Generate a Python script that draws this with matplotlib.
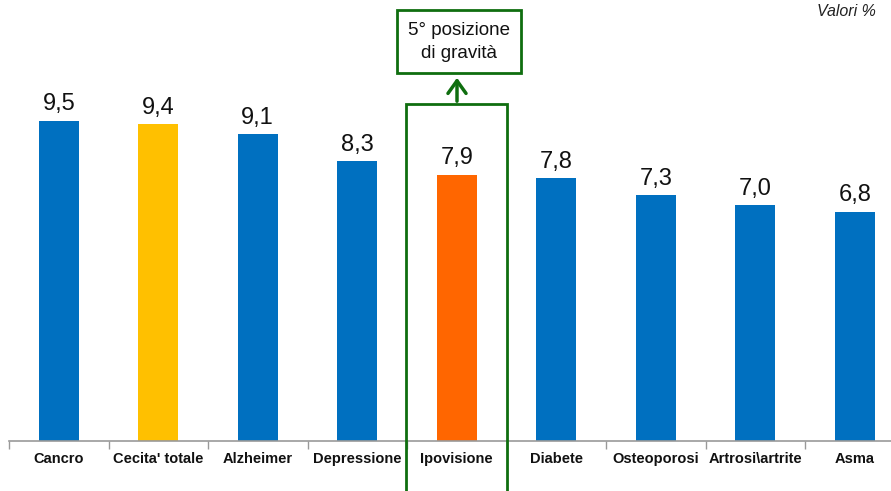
import matplotlib
matplotlib.use("Agg")
import matplotlib.pyplot as plt
from matplotlib.patches import Rectangle, FancyArrowPatch

plt.rcParams['font.family'] = ['Liberation Sans', 'DejaVu Sans']

categories = ["Cancro", "Cecita' totale", "Alzheimer", "Depressione", "Ipovisione",
              "Diabete", "Osteoporosi", "Artrosi\\artrite", "Asma"]
values = [9.5, 9.4, 9.1, 8.3, 7.9, 7.8, 7.3, 7.0, 6.8]
value_labels = ["9,5", "9,4", "9,1", "8,3", "7,9", "7,8", "7,3", "7,0", "6,8"]

BLUE = "#0070C0"
colors = [BLUE] * len(values)
colors[1] = "#FFC000"
colors[4] = "#FF6600"
GREEN = "#0F6E0F"

W, H = 891, 491
fig = plt.figure(figsize=(W / 100, H / 100), dpi=100)
# axes: baseline at y=441 px, value 9.5 at y=121 px; categories 99.5 px wide starting at x=9
ax_left = 9 / W
ax_width = 9 * 99.5 / W
ax_bottom = (H - 441) / H
ymax = 441 / ((441 - 121) / 9.5)
ax = fig.add_axes([ax_left, ax_bottom, ax_width, 441 / H])
ax.set_xlim(-0.5, 8.5)
ax.set_ylim(0, ymax)

x = list(range(len(categories)))
ax.bar(x, values, width=0.4, color=colors, zorder=2)
for xi, v, lab in zip(x, values, value_labels):
    ax.annotate(lab, (xi, v), xytext=(0, 4), textcoords="offset points",
                ha="center", va="bottom", fontsize=17, color="#111111")

for s in ["top", "right", "left"]:
    ax.spines[s].set_visible(False)
ax.spines["bottom"].set_color("#999999")
ax.spines["bottom"].set_linewidth(1.2)
ax.set_yticks([])
ax.set_xticks([i - 0.5 for i in range(len(categories) + 1)], minor=False)
ax.set_xticklabels([])
ax.tick_params(axis="x", direction="out", length=6, color="#999999", width=1)
for xi, c in zip(x, categories):
    ax.text(xi, -0.33, c, ha="center", va="top", fontsize=10.5, fontweight="bold",
            color="#111111", transform=ax.transData, clip_on=False)

# highlight frame around Ipovisione
ptx = lambda px: px / W
pty = lambda py: (H - py) / H
fig.patches.append(Rectangle((ptx(406), pty(495)), (507 - 406) / W, (495 - 104) / H,
                             transform=fig.transFigure, fill=False, edgecolor=GREEN,
                             linewidth=2))
fig.patches.append(Rectangle((ptx(397), pty(73)), (521 - 397) / W, (73 - 10) / H,
                             transform=fig.transFigure, fill=False, edgecolor=GREEN,
                             linewidth=2))
arrow = FancyArrowPatch((ptx(457), pty(104)), (ptx(457), pty(75)),
                        transform=fig.transFigure, arrowstyle="->,head_length=7,head_width=5",
                        color=GREEN, linewidth=2.5, mutation_scale=1.3)
fig.patches.append(arrow)
fig.text(ptx(459), pty(42), "5° posizione\ndi gravità", ha="center", va="center",
         fontsize=13.5, color="#111111", linespacing=1.5)

fig.text(ptx(876), pty(12), "Valori %", ha="right", va="center", fontsize=11.5,
         style="italic", color="#222222")

fig.savefig("out.png", dpi=100)
